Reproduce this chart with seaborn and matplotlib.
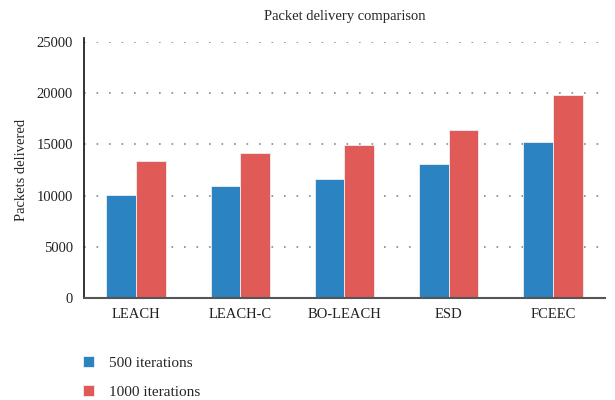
import pandas as pd
import matplotlib.pyplot as plt
import seaborn as sns

# Data
protocols = ['LEACH', 'LEACH-C', 'BO-LEACH', 'ESD', 'FCEEC']
iter_500 = [10100, 10900, 11600, 13100, 15200]
iter_1000 = [13400, 14200, 14900, 16400, 19800]
series = ['500 iterations', '1000 iterations']
yticks = [0, 5000, 10000, 15000, 20000, 25000]

df = pd.DataFrame({
    'protocol': protocols * 2,
    'packets': iter_500 + iter_1000,
    'series': [series[0]] * 5 + [series[1]] * 5,
})

sns.set_style('white')
plt.rcParams['font.family'] = ['Liberation Serif', 'DejaVu Serif']

fig = plt.figure(figsize=(6.15, 4), dpi=100)
ax = fig.add_axes([0.1366, 0.255, 0.847, 0.64])

sns.barplot(data=df, x='protocol', y='packets', hue='series', order=protocols,
            hue_order=series, palette=['#2b83c1', '#e05a57'], width=0.57,
            saturation=1, edgecolor='#f0f0f0', linewidth=0.6, ax=ax)

ax.set_ylim(0, 25000)
ax.set_yticks(yticks)
ax.set_xlim(-0.5, 4.5)
ax.yaxis.grid(True, linestyle=(0, (1, 6.5)), color='#888888', linewidth=1.2)
ax.set_axisbelow(True)
ax.tick_params(axis='both', length=0, labelsize=10.5, colors='#222222')
ax.tick_params(axis='y', pad=8)
ax.tick_params(axis='x', pad=7)

for side in ['top', 'right']:
    ax.spines[side].set_visible(False)
ax.spines['left'].set_color('#111111')
ax.spines['bottom'].set_color('#555555')
ax.spines['left'].set_linewidth(1.2)
ax.spines['bottom'].set_linewidth(1.5)
ax.spines['left'].set_bounds(0, 25400)

ax.set_title('Packet delivery comparison', fontsize=10.5, pad=16)
ax.set_xlabel('')
ax.set_ylabel('Packets delivered', fontsize=10.5, labelpad=6)

handles, labels = ax.get_legend_handles_labels()
ax.legend(handles, labels, loc='upper left', bbox_to_anchor=(0.125, 0.125),
          bbox_transform=fig.transFigure, frameon=False, fontsize=11,
          handlelength=0.7, handleheight=0.7, handletextpad=1.0,
          labelspacing=1.0, borderaxespad=0)

plt.savefig('out.png', dpi=100)
